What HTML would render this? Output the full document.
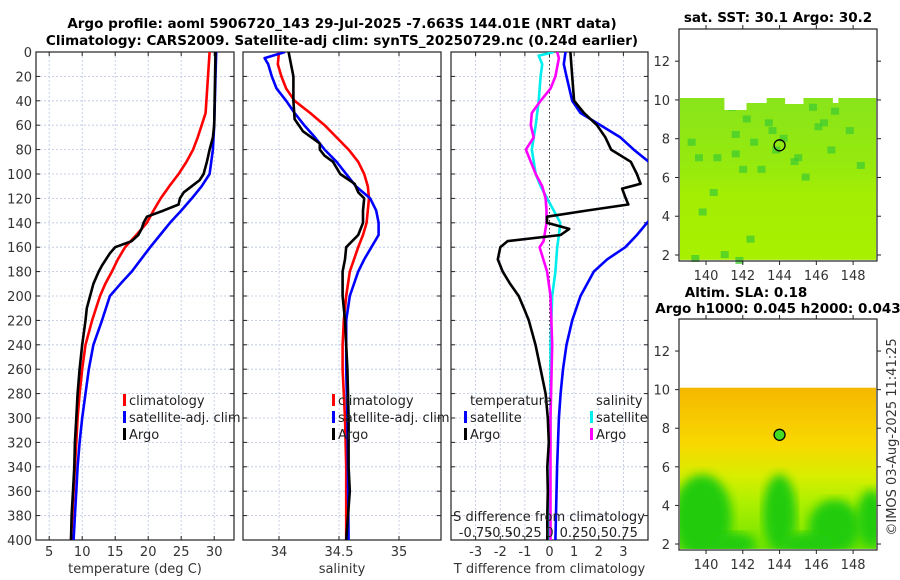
<!DOCTYPE html>
<html><head><meta charset="utf-8"><style>
html,body{margin:0;padding:0;background:#fff;}
svg{display:block;font-family:"DejaVu Sans","Liberation Sans",sans-serif;}
</style></head><body>
<svg id="c" width="900" height="580" viewBox="0 0 900 580" xmlns="http://www.w3.org/2000/svg">
<text x="342" y="28" text-anchor="middle" font-weight="bold" font-size="13.5">Argo profile: aoml 5906720_143 29-Jul-2025 -7.663S 144.01E (NRT data)</text>
<text x="342" y="45" text-anchor="middle" font-weight="bold" font-size="13.5">Climatology: CARS2009. Satellite-adj clim: synTS_20250729.nc (0.24d earlier)</text>
<text x="778" y="22" text-anchor="middle" font-weight="bold" font-size="13.5">sat. SST: 30.1 Argo: 30.2</text>
<text x="746" y="297" text-anchor="middle" font-weight="bold" font-size="13.5">Altim. SLA: 0.18</text>
<text x="778" y="313" text-anchor="middle" font-weight="bold" font-size="13.5">Argo h1000: 0.045 h2000: 0.043</text>
<text transform="translate(896,437) rotate(-90)" text-anchor="middle" font-size="13" fill="#333">©IMOS 03-Aug-2025 11:41:25</text>
</svg>
<script>
// ---- data ----
const depthTicks=[0,20,40,60,80,100,120,140,160,180,200,220,240,260,280,300,320,340,360,380,400];
const tTicks=[5,10,15,20,25,30];
const sTicks=[34,34.5,35];
const dTicks=[-3,-2,-1,0,1,2,3];
const sdTickLabels=["-0.75","-0.5","-0.25","0","0.25","0.5","0.75"];
const sdTickVals=[-0.75,-0.5,-0.25,0,0.25,0.5,0.75];
const tempClimD=[0,50,60,70,80,90,100,110,120,130,140,150,160,170,180,190,200,220,240,260,280,300,320,340,360,380,400];
const tempClimV=[29.3,28.7,28.1,27.5,26.8,25.8,24.6,23.2,21.9,20.8,19.8,18.2,16.5,15.4,14.5,13.5,12.7,11.5,10.5,10,9.6,9.3,9.1,8.9,8.7,8.5,8.3];
const tempSatD=[0,20,60,80,100,110,120,130,140,150,160,170,180,190,200,220,240,260,280,300,320,340,360,380,400];
const tempSatV=[30.3,30.2,30,29.8,29.3,28.1,26.6,25,23.3,21.8,20.3,18.9,17.5,15.8,14.2,13,11.7,11,10.5,10,9.6,9.3,9.1,8.9,8.7];
const tempArgoD=[0,60,70,80,90,100,105,110,115,120,125,130,135,140,145,150,155,160,165,175,180,190,200,210,220,240,260,280,300,320,340,360,380,400];
const tempArgoV=[30.2,30,29.8,29.3,28.9,28.4,27.8,26.6,25.4,24.8,24.6,22.3,19.8,19.3,19,18.5,17.5,15,14.2,13,12.5,11.7,11.2,10.7,10.5,10,9.6,9.3,9.1,8.9,8.8,8.6,8.4,8.3];
const salClimD=[0,10,20,30,40,50,60,70,80,90,100,110,120,130,140,150,160,180,200,220,240,260,300,340,400];
const salClimV=[34.0,33.99,34.02,34.06,34.13,34.26,34.38,34.48,34.58,34.66,34.71,34.74,34.75,34.74,34.73,34.7,34.66,34.59,34.56,34.54,34.53,34.53,34.55,34.56,34.56];
const salSatD=[0,5,10,20,30,40,50,60,70,80,90,100,110,120,130,140,150,160,170,180,200,220,260,300,400];
const salSatV=[34.05,33.88,33.91,33.94,33.98,34.06,34.13,34.21,34.3,34.38,34.48,34.56,34.64,34.76,34.81,34.83,34.83,34.77,34.71,34.66,34.59,34.56,34.56,34.57,34.58];
const salArgoD=[0,10,20,40,55,65,75,80,85,90,100,108,115,120,130,140,150,160,170,180,200,220,240,260,300,340,360,400];
const salArgoV=[34.08,34.1,34.12,34.12,34.13,34.2,34.34,34.34,34.38,34.45,34.51,34.63,34.66,34.71,34.7,34.7,34.66,34.56,34.55,34.53,34.53,34.55,34.56,34.57,34.58,34.58,34.59,34.56];
const dTArgoD=[0,20,40,50,60,70,80,90,100,108,112,120,125,130,135,140,145,150,155,160,170,180,190,200,210,220,240,260,280,300,320,340,360,380,400];
const dTArgoV=[0.85,0.92,1.0,1.4,1.93,2.27,2.5,3.3,3.55,3.7,2.95,3.1,3.2,1.5,-0.1,-0.1,0.8,0.45,-1.7,-2.0,-2.1,-1.9,-1.6,-1.25,-1.04,-0.84,-0.57,-0.36,-0.16,-0.07,-0.03,-0.09,-0.07,-0.09,-0.09];
const dTSatD=[0,10,20,40,50,60,70,80,90,100,120,140,150,160,170,180,200,220,240,260,280,300,340,400];
const dTSatV=[0.65,0.58,0.69,0.92,1.26,2.07,2.88,3.42,4.03,4.6,5.0,3.96,3.55,3.08,2.34,1.8,1.26,0.92,0.69,0.55,0.45,0.38,0.31,0.24];
const dSSatD=[0,3,10,20,40,60,80,100,110,120,130,140,150,160,180,200,240,300,400];
const dSSatV=[0.044,-0.11,-0.074,-0.09,-0.11,-0.14,-0.18,-0.14,-0.09,-0.024,0.044,0.11,0.095,0.078,0.06,0.027,0.01,0.01,0];
const dSArgoD=[0,5,20,30,40,50,60,70,80,90,100,110,120,130,140,155,160,180,200,240,300,400];
const dSArgoV=[0.078,0.095,0.06,0.01,-0.09,-0.18,-0.19,-0.16,-0.24,-0.19,-0.14,-0.074,-0.04,-0.03,-0.03,-0.06,-0.1,-0.024,0.01,0.027,0.01,0.01];
const lonTicks=[140,142,144,146,148];
const latTicks=[2,4,6,8,10,12];
const argoLon=144.0, argoLat=7.66;
const sstPatchLon=[141.2,141.4,142.0,142.4,143.2,143.4,144.0,144.8,145.6,145.9,146.2,146.6,143.6,139.0,139.4,140.4,141.4,141.8,144.6,139.2,142.8,140.2,145.2,147.6,148.2,142.2,140.8,146.8,139.6,141.6];
const sstPatchLat=[9.8,8.4,9.2,8.0,9.0,8.6,8.2,7.2,9.8,8.8,9.0,7.6,7.6,8.0,7.2,7.2,7.4,6.6,7.0,2.0,6.6,5.4,6.2,8.6,6.8,3.0,2.2,9.6,4.4,1.9];
// ---- scales ----
const svg=document.getElementById('c');
const NS='http://www.w3.org/2000/svg';
const Y0=52,Y1=540;
const yD=d=>Y0+(d/400)*(Y1-Y0);
const P1={x0:36,x1:234,v0:3,v1:33};
const P2={x0:243,x1:441,v0:33.7,v1:35.35};
const P3={x0:451,x1:648,v0:-4,v1:4};
const sx=(p,v)=>p.x0+(v-p.v0)/(p.v1-p.v0)*(p.x1-p.x0);
const M1={x0:679,x1:877,y0:29,y1:261}, M2={x0:679,x1:877,y0:319,y1:550};
const mLon=(m,l)=>m.x0+(l-138.53)/(149.3-138.53)*(m.x1-m.x0);
const mLat=(m,l)=>m.y0+(13.66-l)/(13.66-1.69)*(m.y1-m.y0);
function el(t,a,p){const e=document.createElementNS(NS,t);for(const k in a)e.setAttribute(k,a[k]);(p||svg).appendChild(e);return e;}
const defs=el('defs',{});
[['cp1',P1],['cp2',P2],['cp3',P3]].forEach(([id,p])=>{const c=el('clipPath',{id},defs);el('rect',{x:p.x0,y:Y0,width:p.x1-p.x0,height:Y1-Y0},c);});
function panel(p,ticks,labels,name,xlabel){
  const g=el('g',{});
  
  
  ticks.forEach((v,i)=>{const x=sx(p,v);
    const gl=el('line',{x1:x,x2:x,y1:Y0,y2:Y1,stroke:'#b8c4e0','stroke-width':0.8,'stroke-dasharray':'2,2'},g);
    
    
    el('line',{x1:x,x2:x,y1:Y1,y2:Y1-4,stroke:'#222'},g);el('line',{x1:x,x2:x,y1:Y0,y2:Y0+4,stroke:'#222'},g);
    const t=el('text',{x:x,y:556,'text-anchor':'middle','font-size':13,fill:'#333'},g);t.textContent=labels[i];
    
    });
  depthTicks.forEach(d=>{const y=yD(d);
    el('line',{x1:p.x0,x2:p.x1,y1:y,y2:y,stroke:'#b8c4e0','stroke-width':0.8,'stroke-dasharray':'2,2'},g);
    el('line',{x1:p.x0,x2:p.x0+4,y1:y,y2:y,stroke:'#222'},g);el('line',{x1:p.x1,x2:p.x1-4,y1:y,y2:y,stroke:'#222'},g);});
  const b=el('rect',{x:p.x0,y:Y0,width:p.x1-p.x0,height:Y1-Y0,fill:'none',stroke:'#222','stroke-width':1.2},g);
  
  
  const xl=el('text',{x:(p.x0+p.x1)/2,y:573,'text-anchor':'middle','font-size':13,fill:'#333'},g);xl.textContent=xlabel;
  
  
  return g;}
panel(P1,tTicks,tTicks.map(String),'temperature-panel','temperature (deg C)');
panel(P2,sTicks,sTicks.map(String),'salinity-panel','salinity');
panel(P3,dTicks,dTicks.map(String),'difference-panel','T difference from climatology');
depthTicks.forEach(d=>{const t=el('text',{x:32,y:yD(d)+5,'text-anchor':'end','font-size':13,fill:'#333'});t.textContent=d;
  
  });
const zl=el('line',{x1:sx(P3,0),x2:sx(P3,0),y1:Y0,y2:Y1,stroke:'#333','stroke-dasharray':'1.5,2.5','stroke-width':1});


function line(p,D,V,col,clip,name,scale){
  const pts=D.map((d,i)=>sx(p,V[i]*(scale||1)).toFixed(1)+','+yD(d).toFixed(1)).join(' ');
  const l=el('polyline',{points:pts,fill:'none',stroke:col,'stroke-width':2.6,'stroke-linejoin':'round','clip-path':'url(#'+clip+')'});
  
  }
line(P1,tempClimD,tempClimV,'#f00','cp1','temp-climatology-line');
line(P1,tempSatD,tempSatV,'#00f','cp1','temp-satellite-line');
line(P1,tempArgoD,tempArgoV,'#000','cp1','temp-argo-line');
line(P2,salClimD,salClimV,'#f00','cp2','sal-climatology-line');
line(P2,salSatD,salSatV,'#00f','cp2','sal-satellite-line');
line(P2,salArgoD,salArgoV,'#000','cp2','sal-argo-line');
line(P3,dSSatD,dSSatV,'#00eeee','cp3','sdiff-satellite-line',4);
line(P3,dSArgoD,dSArgoV,'#f0f','cp3','sdiff-argo-line',4);
line(P3,dTSatD,dTSatV,'#00f','cp3','tdiff-satellite-line');
line(P3,dTArgoD,dTArgoV,'#000','cp3','tdiff-argo-line');
function leg(x,y,col,txt,name){
  el('rect',{x:x-6,y:y-11,width:3,height:12,fill:col});
  const t=el('text',{x:x,y:y,'font-size':13,fill:'#222'});t.textContent=txt;
  
  }
leg(129,405,'#f00','climatology','legend-climatology');
leg(129,422,'#00f','satellite-adj. clim','legend-satellite-adj');
leg(129,439,'#000','Argo','legend-argo');
leg(338,405,'#f00','climatology','legend-climatology-2');
leg(338,422,'#00f','satellite-adj. clim','legend-satellite-adj-2');
leg(338,439,'#000','Argo','legend-argo-2');
{const t=el('text',{x:470,y:405,'font-size':13,fill:'#222'});t.textContent='temperature';

}
{const t=el('text',{x:596,y:405,'font-size':13,fill:'#222'});t.textContent='salinity';

}
leg(470,422,'#00f','satellite','legend-t-satellite');
leg(470,439,'#000','Argo','legend-t-argo');
leg(596,422,'#00eeee','satellite','legend-s-satellite');
leg(596,439,'#f0f','Argo','legend-s-argo');
{const t=el('text',{x:549,y:521,'text-anchor':'middle','font-size':13,fill:'#222'});t.textContent='S difference from climatology';

}
sdTickVals.forEach((v,i)=>{const t=el('text',{x:sx(P3,v*4),y:537,'text-anchor':'middle','font-size':13,fill:'#222'});t.textContent=sdTickLabels[i];
  
  });
function mapAxes(m,name){
  const g=el('g',{});
  
  
  lonTicks.forEach(l=>{const x=mLon(m,l);el('line',{x1:x,x2:x,y1:m.y1,y2:m.y1+4,stroke:'#222'},g);el('line',{x1:x,x2:x,y1:m.y0,y2:m.y0-4,stroke:'#222'},g);
    const t=el('text',{x:x,y:m.y1+19,'text-anchor':'middle','font-size':13,fill:'#333'},g);t.textContent=l;
    
    });
  latTicks.forEach(l=>{const y=mLat(m,l);el('line',{x1:m.x0,x2:m.x0-4,y1:y,y2:y,stroke:'#222'},g);el('line',{x1:m.x1,x2:m.x1+4,y1:y,y2:y,stroke:'#222'},g);
    const t=el('text',{x:m.x0-9,y:y+5,'text-anchor':'end','font-size':13,fill:'#333'},g);t.textContent=l;
    
    });
  el('rect',{x:m.x0,y:m.y0,width:m.x1-m.x0,height:m.y1-m.y0,fill:'none',stroke:'#222','stroke-width':1.2},g);}
{const top=mLat(M1,10.1),bot=mLat(M1,1.75),l=M1.x0+1,r=mLon(M1,149.25);
 const sg=el('linearGradient',{id:'sstg',x1:0,y1:0,x2:0,y2:1},defs);
 [['0','#88e41a'],['0.45','#98ea0c'],['0.6','#a4ee04'],['1','#a8f000']].forEach(s=>el('stop',{offset:s[0],'stop-color':s[1]},sg));
 const f=el('rect',{x:l,y:top,width:r-l,height:bot-top,fill:'url(#sstg)'});
 
 
 sstPatchLon.forEach((lo,i)=>{const c=el('rect',{x:mLon(M1,lo),y:mLat(M1,sstPatchLat[i]),width:8,height:7,fill:'#40cc30',opacity:0.75});
   
   });
 el('rect',{x:mLon(M1,141.0),y:top,width:mLon(M1,142.2)-mLon(M1,141.0),height:12,fill:'#fff'});
 el('rect',{x:mLon(M1,142.2),y:top,width:mLon(M1,143.3)-mLon(M1,142.2),height:5,fill:'#fff'});
 el('rect',{x:mLon(M1,144.3),y:top,width:mLon(M1,145.3)-mLon(M1,144.3),height:6,fill:'#fff'});
 el('rect',{x:mLon(M1,146.9),y:top,width:mLon(M1,147.2)-mLon(M1,146.9),height:5,fill:'#fff'});}
mapAxes(M1,'sst-map');
{const c=el('circle',{cx:mLon(M1,argoLon),cy:mLat(M1,argoLat),r:5.5,fill:'none',stroke:'#000','stroke-width':1.3});

}
{const top=mLat(M2,10.1),bot=mLat(M2,1.75),l=M2.x0+1,r=mLon(M2,149.25);
 const gd=el('linearGradient',{id:'slag',x1:0,y1:0,x2:0,y2:1},defs);
 [['0','#f5b800'],['0.35','#f8d800'],['0.55','#d8ee00'],['0.7','#b0f000'],['1','#70e400']].forEach(s=>el('stop',{offset:s[0],'stop-color':s[1]},gd));
 const f=el('rect',{x:l,y:top,width:r-l,height:bot-top,fill:'url(#slag)'});
 
 
 const fl=el('filter',{id:'bl'},defs);el('feGaussianBlur',{stdDeviation:5},fl);
 const cp=el('clipPath',{id:'cpm2'},defs);el('rect',{x:l,y:top,width:r-l,height:bot-top},cp);
 const cg=el('g',{'clip-path':'url(#cpm2)'});
 [[139.8,3.4,1.6,2.2],[144.0,3.6,0.9,2.0],[147.0,2.9,1.4,1.4],[149,3.3,0.8,1.5],[141.5,2.0,1.2,0.6],[145.5,2.0,1.4,0.6]].forEach(b=>{
   const e=el('ellipse',{cx:mLon(M2,b[0]),cy:mLat(M2,b[1]),rx:b[2]*18.4,ry:b[3]*19.3,fill:'#22cc11',filter:'url(#bl)'},cg);
   
   });}
mapAxes(M2,'sla-map');
{const c=el('circle',{cx:mLon(M2,argoLon),cy:mLat(M2,argoLat),r:5.5,fill:'#44dd22',stroke:'#000','stroke-width':1.3});

}
</script>
</body></html>
